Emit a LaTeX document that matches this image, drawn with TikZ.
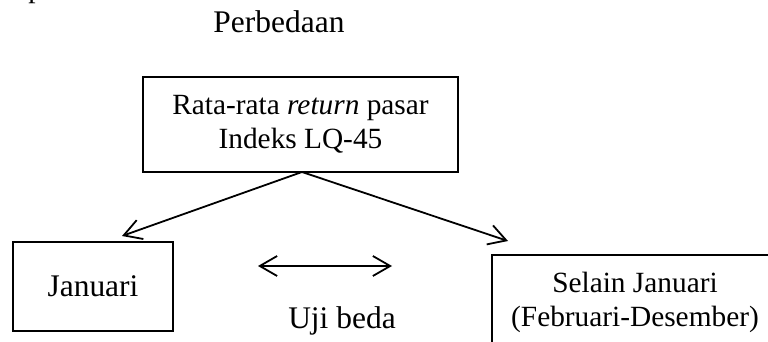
\documentclass[tikz,border=0pt]{standalone}
\usepackage{fontspec}
\setmainfont{Liberation Serif}
\usetikzlibrary{arrows.meta}
\begin{document}
\begin{tikzpicture}[x=0.75pt,y=-0.75pt,
  box/.style={draw, line width=1.35pt, rectangle, inner sep=0pt, align=center},
  smalltext/.style={font=\fontsize{22pt}{25.5pt}\selectfont},
  bigtext/.style={font=\fontsize{23.6pt}{28pt}\selectfont},
  conn/.style={line width=1.35pt, -{Straight Barb[length=13pt,width=15pt]}},
  dconn/.style={line width=1.35pt, {Straight Barb[length=13pt,width=15pt]}-{Straight Barb[length=13pt,width=15pt]}}]
\useasboundingbox (0,0) rectangle (768,342);
\clip (0,0) rectangle (768,342);
\node[smalltext, anchor=base west, inner sep=0pt] (frag) at (28,-2) {p};
\node[bigtext, anchor=base, inner sep=0pt] (perb) at (279,33) {Perbedaan};
\node[box, smalltext, minimum width=236.25pt, minimum height=71.25pt] (top) at (300.5,124.5)
  {Rata-rata \textit{return} pasar\\Indeks LQ-45};
\node[box, bigtext, minimum width=120pt, minimum height=66.75pt] (jan) at (93,286.5) {Januari};
\node[box, smalltext, minimum width=214.5pt, minimum height=71.25pt] (sel) at (635,302.5)
  {Selain Januari\\(Februari-Desember)};
\node[bigtext, anchor=base, inner sep=0pt] (uji) at (342,328) {Uji beda};
\coordinate (apex) at (302,172);
\coordinate (ltip) at (122,236);
\coordinate (rtip) at (508,241);
\coordinate (dl) at (258,266);
\coordinate (dr) at (392,266);
\draw[conn] (apex) -- (ltip);
\draw[conn] (apex) -- (rtip);
\draw[dconn] (dl) -- (dr);
\end{tikzpicture}
\end{document}
